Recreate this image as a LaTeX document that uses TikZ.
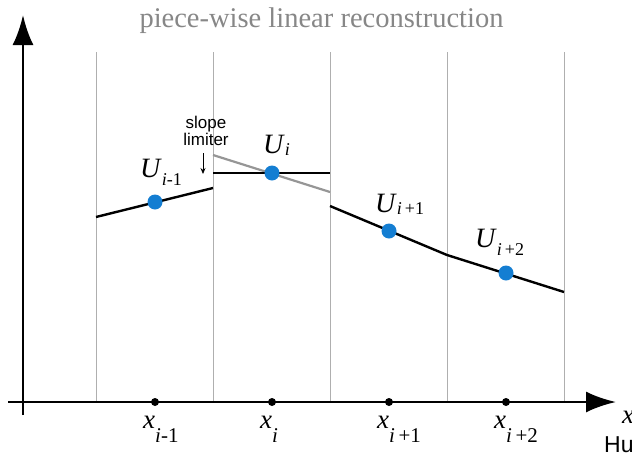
\documentclass[tikz,border=0pt]{standalone}
\usepackage{fontspec}
\setmainfont{Liberation Serif}
\setsansfont{Liberation Sans}
\usepackage{xcolor}
\definecolor{gridGray}{RGB}{175,175,175}
\definecolor{titleGray}{RGB}{135,135,135}
\definecolor{limitGray}{RGB}{150,150,150}
\definecolor{cellBlue}{RGB}{20,126,210}
\usetikzlibrary{arrows.meta,positioning}

% symbol with a lowered index: #1 letter, #2 drop, #3 index size, #4 tail after i
\newcommand{\idxsym}[4]{\textit{#1}\raisebox{-#2}{\fontsize{#3}{#3}\selectfont\textit{i}#4}}

\begin{document}
\begin{tikzpicture}[
    x=1pt, y=-1pt,
    gridLine/.style={draw=gridGray, line width=1pt},
    axisLine/.style={line width=2.8pt, -{Latex[length=30pt,width=21pt]}},
    reconLine/.style={line width=2.4pt, draw=black},
    limitLine/.style={line width=2.2pt, draw=limitGray},
    cellDot/.style={circle, fill=cellBlue, inner sep=0pt, minimum size=15pt},
    tickDot/.style={circle, fill=black, inner sep=0pt, minimum size=8pt},
    valLabel/.style={anchor=base west, inner sep=0pt, font=\fontsize{28}{30}\selectfont},
    posLabel/.style={anchor=base west, inner sep=0pt, font=\fontsize{27}{30}\selectfont},
    noteLabel/.style={font=\sffamily\fontsize{17}{17}\selectfont, align=center, inner sep=0pt}
]
    \useasboundingbox (0,0) rectangle (632,453);

    % Title
    \node[anchor=base, text=titleGray, font=\fontsize{28.5}{30}\selectfont] (title) at (321.5,27) {piece-wise linear reconstruction};

    % Cell faces
    \foreach \xf in {96,213,330,447,564}
        \draw[gridLine] (\xf,52) -- (\xf,402);

    % Axes
    \coordinate (yBot) at (23,415);
    \coordinate (yTop) at (23,15);
    \coordinate (xLeft) at (8,402);
    \coordinate (xRight) at (616,402);
    \draw[axisLine] (yBot) -- (yTop);
    \draw[axisLine] (xLeft) -- (xRight);

    % Cell centres on the axis
    \node[tickDot] (xA) at (155,402) {};
    \node[tickDot] (xB) at (272,402) {};
    \node[tickDot] (xC) at (389,402) {};
    \node[tickDot] (xD) at (506,402) {};

    \node[posLabel] (lxA) at (143,428) {\idxsym{x}{0.55em}{21}{-1}};
    \node[posLabel] (lxB) at (260,428) {\idxsym{x}{0.55em}{21}{}};
    \node[posLabel] (lxC) at (377,428) {\idxsym{x}{0.55em}{21}{\,+1}};
    \node[posLabel] (lxD) at (494,428) {\idxsym{x}{0.55em}{21}{\,+2}};
    \node[posLabel] (lxEnd) at (622,423) {\textit{x}};
    \node[anchor=base west, inner sep=0pt, font=\sffamily\fontsize{23}{25}\selectfont] (hu) at (604,452) {Hu};

    % Reconstructed slopes
    \coordinate (aL) at (96,217);
    \coordinate (aR) at (213,188);
    \coordinate (bL) at (213,173);
    \coordinate (bR) at (330,173);
    \coordinate (gL) at (213,155);
    \coordinate (gR) at (330,192);
    \coordinate (cL) at (330,206);
    \coordinate (cR) at (447,255);
    \coordinate (dR) at (564,292);

    \draw[limitLine] (gL) -- (gR);
    \draw[reconLine] (aL) -- (aR);
    \draw[reconLine] (bL) -- (bR);
    \draw[reconLine] (cL) -- (cR) -- (dR);

    % Cell averages
    \node[cellDot] (uA) at (155,202) {};
    \node[cellDot] (uB) at (272,173) {};
    \node[cellDot] (uC) at (389,231) {};
    \node[cellDot] (uD) at (506,273) {};

    \node[valLabel] (luA) at (140,177) {\idxsym{U}{0.32em}{18}{-1}};
    \node[valLabel] (luB) at (263,153) {\idxsym{U}{0.1em}{18}{}};
    \node[valLabel] (luC) at (375,212) {\idxsym{U}{0.1em}{18}{\,+1}};
    \node[valLabel] (luD) at (475,247) {\idxsym{U}{0.3em}{18}{\,+2}};

    % Slope limiter note
    \node[noteLabel] (note) at (206,131) {slope\\limiter};
    \coordinate (noteTip) at (203,174);
    \draw[-{Stealth[length=6pt,width=5pt]}, line width=0.8pt] (203,153) -- (noteTip);

\end{tikzpicture}
\end{document}
